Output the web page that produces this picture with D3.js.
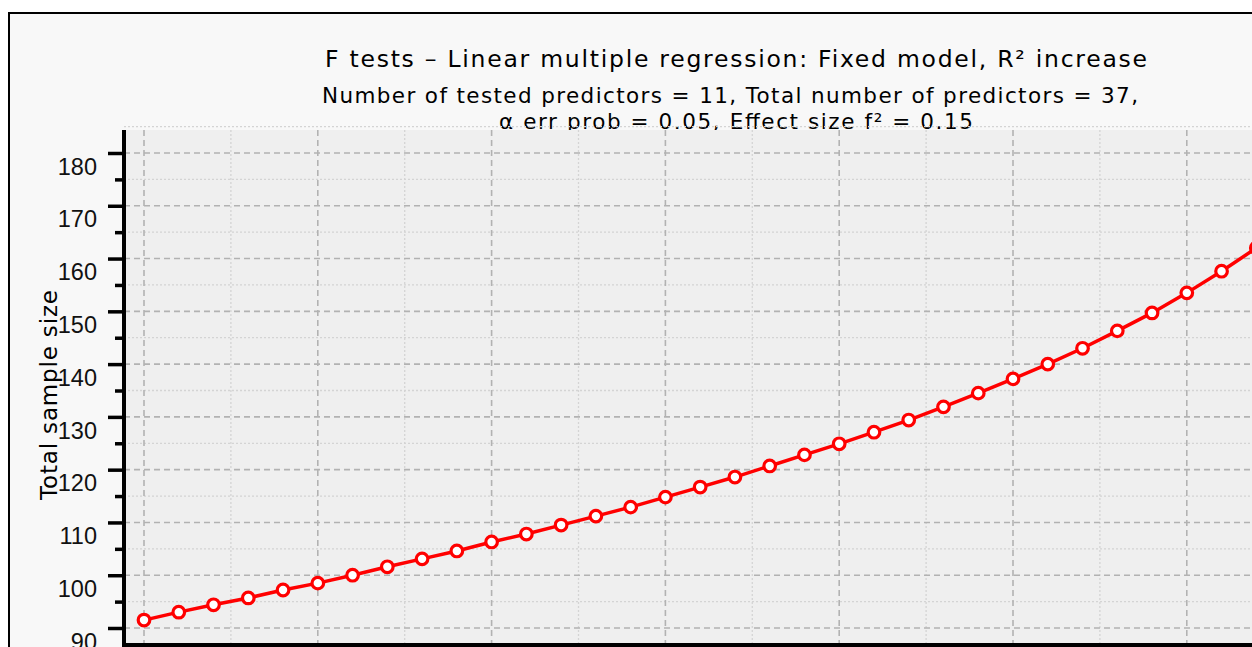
<!DOCTYPE html>
<html>
<head>
<meta charset="utf-8">
<script src="https://cdn.jsdelivr.net/npm/d3@7"></script>
<style>
  html, body { margin: 0; padding: 0; background: #fff; overflow: hidden; }
  svg { display: block; font-family: "DejaVu Sans", sans-serif; }
</style>
</head>
<body>
<svg id="chart" width="1252" height="647"></svg>
<script>
// power (1 - β err prob) on x, total sample size on y
const power = [0.60, 0.61, 0.62, 0.63, 0.64, 0.65, 0.66, 0.67, 0.68, 0.69, 0.70,
  0.71, 0.72, 0.73, 0.74, 0.75, 0.76, 0.77, 0.78, 0.79, 0.80,
  0.81, 0.82, 0.83, 0.84, 0.85, 0.86, 0.87, 0.88, 0.89, 0.90, 0.91, 0.92];
const sampleSize = [91.5, 93, 94.4, 95.7, 97.2, 98.5, 100, 101.6, 103.1, 104.6, 106.3,
  107.8, 109.5, 111.2, 112.9, 114.8, 116.7, 118.6, 120.7, 122.8, 124.9,
  127.1, 129.4, 131.9, 134.5, 137.2, 140, 143, 146.3, 149.7, 153.5, 157.6, 162];
const yMajorTicks = [90, 100, 110, 120, 130, 140, 150, 160, 170, 180];
const yMinorTicks = [95, 105, 115, 125, 135, 145, 155, 165, 175, 185];
const xMajorTicks = [0.60, 0.65, 0.70, 0.75, 0.80, 0.85, 0.90, 0.95];
const xMinorTicks = [0.625, 0.675, 0.725, 0.775, 0.825, 0.875, 0.925];

const titleLines = [
  'F tests \u2013 Linear multiple regression: Fixed model, R\u00b2 increase',
  'Number of tested predictors = 11, Total number of predictors = 37,',
  '\u03b1 err prob = 0.05, Effect size f\u00b2 = 0.15',
];
// the original font is wider than DejaVu, so stretch the lines to its widths
const titleWidths = [822, 816, 474];

const svg = d3.select('#chart');

const plot = {left: 124, top: 130, right: 1400, bottom: 645};

const x = d3.scaleLinear().domain([0.60, 0.65]).range([144, 317.8]);
const y = d3.scaleLinear().domain([90, 180]).range([628, 153]);

// outer frame
svg.append('rect')
  .attr('x', 9).attr('y', 13)
  .attr('width', 1400).attr('height', 800)
  .attr('fill', '#f8f8f8')
  .attr('stroke', '#000')
  .attr('stroke-width', 2);

// titles
svg.selectAll('text.title')
  .data(titleLines)
  .enter().append('text')
  .attr('class', 'title')
  .attr('x', (d, i) => i === 1 ? 730 : 736)
  .attr('y', (d, i) => [67, 103, 129][i])
  .attr('text-anchor', 'middle')
  .attr('font-size', (d, i) => i === 0 ? 23.5 : 21.5)
  .attr('textLength', (d, i) => titleWidths[i])
  .attr('lengthAdjust', 'spacing')
  .attr('fill', '#000')
  .text(d => d);

// plot background covers the last subtitle line
svg.append('rect')
  .attr('x', plot.left).attr('y', plot.top)
  .attr('width', plot.right - plot.left)
  .attr('height', plot.bottom - plot.top)
  .attr('fill', '#efefef');

const grid = svg.append('g');

// minor grid, dotted
grid.selectAll('line.ymin').data(yMinorTicks).enter().append('line')
  .attr('x1', plot.left).attr('x2', plot.right)
  .attr('y1', d => y(d)).attr('y2', d => y(d))
  .attr('stroke', '#d4d4d4').attr('stroke-width', 1.3)
  .attr('stroke-dasharray', '2,2');
grid.selectAll('line.xmin').data(xMinorTicks).enter().append('line')
  .attr('x1', d => x(d)).attr('x2', d => x(d))
  .attr('y1', plot.top).attr('y2', plot.bottom)
  .attr('stroke', '#d4d4d4').attr('stroke-width', 1.3)
  .attr('stroke-dasharray', '2,2');

// major grid, dashed
grid.selectAll('line.ymaj').data(yMajorTicks).enter().append('line')
  .attr('x1', plot.left).attr('x2', plot.right)
  .attr('y1', d => y(d)).attr('y2', d => y(d))
  .attr('stroke', '#b2b2b2').attr('stroke-width', 1.6)
  .attr('stroke-dasharray', '6,4');
grid.selectAll('line.xmaj').data(xMajorTicks).enter().append('line')
  .attr('x1', d => x(d)).attr('x2', d => x(d))
  .attr('y1', plot.top).attr('y2', plot.bottom)
  .attr('stroke', '#b2b2b2').attr('stroke-width', 1.6)
  .attr('stroke-dasharray', '6,4');

// y axis: labelled ticks at 10s, short ticks at 5s
const yAxis = svg.append('g')
  .attr('transform', `translate(${plot.left},0)`)
  .call(d3.axisLeft(y).tickValues(yMajorTicks).tickSize(16).tickPadding(11))
  .call(g => g.select('.domain').remove());
yAxis.selectAll('line').attr('stroke', '#000').attr('stroke-width', 3.5);
yAxis.selectAll('text')
  .attr('font-size', 23.5)
  .attr('font-family', '"Liberation Sans", sans-serif')
  .attr('fill', '#111')
  .attr('dy', '0.9em');

const yMinor = svg.append('g')
  .attr('transform', `translate(${plot.left},0)`)
  .call(d3.axisLeft(y).tickValues(yMinorTicks.filter(v => y(v) > plot.top)).tickSize(9).tickFormat(''))
  .call(g => g.select('.domain').remove());
yMinor.selectAll('line').attr('stroke', '#000').attr('stroke-width', 3.5);

// axis lines
svg.append('line')
  .attr('x1', plot.left).attr('x2', plot.left)
  .attr('y1', plot.top).attr('y2', plot.bottom + 2)
  .attr('stroke', '#000').attr('stroke-width', 4);
svg.append('line')
  .attr('x1', plot.left).attr('x2', plot.right)
  .attr('y1', plot.bottom).attr('y2', plot.bottom)
  .attr('stroke', '#000').attr('stroke-width', 4);

// y label
svg.append('text')
  .attr('transform', 'translate(57,395) rotate(-90)')
  .attr('text-anchor', 'middle')
  .attr('font-size', 23)
  .attr('textLength', 210)
  .attr('lengthAdjust', 'spacing')
  .attr('fill', '#000')
  .text('Total sample size');

// series
const pts = power.map((p, i) => ({p, n: sampleSize[i]}));
svg.append('path')
  .datum(pts)
  .attr('fill', 'none')
  .attr('stroke', '#ff0000')
  .attr('stroke-width', 3.5)
  .attr('d', d3.line().x(d => x(d.p)).y(d => y(d.n)));
svg.selectAll('circle.pt').data(pts).enter().append('circle')
  .attr('class', 'pt')
  .attr('cx', d => x(d.p)).attr('cy', d => y(d.n))
  .attr('r', 5.8)
  .attr('fill', '#fff')
  .attr('stroke', '#ff0000')
  .attr('stroke-width', 3.2);
</script>
</body>
</html>
